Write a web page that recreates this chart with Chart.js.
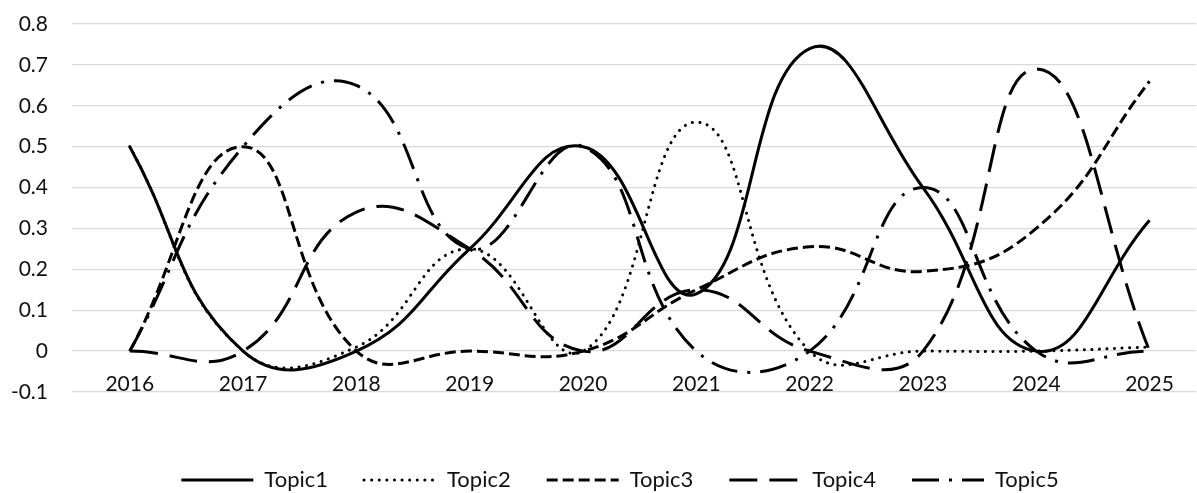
<!DOCTYPE html>
<html>
<head>
<meta charset="utf-8">
<script src="https://cdn.jsdelivr.net/npm/chart.js@4/dist/chart.umd.min.js"></script>
<style>
  html, body { margin: 0; padding: 0; background: #fff; }
  #wrap { width: 1197px; height: 493px; }
</style>
</head>
<body>
<div id="wrap"><canvas id="topics"></canvas></div>
<script>
const years = [2016, 2017, 2018, 2019, 2020, 2021, 2022, 2023, 2024, 2025];
const topic1 = [0.5, 0, 0, 0.25, 0.5, 0.14, 0.74, 0.4, 0, 0.32];
const topic2 = [0.5, 0, 0.01, 0.25, 0, 0.56, 0, 0, 0, 0.01];
const topic3 = [0, 0.5, 0, 0, 0, 0.15, 0.255, 0.195, 0.3, 0.66];
const topic4 = [0, 0, 0.34, 0.25, 0, 0.15, 0, 0, 0.69, 0];
const topic5 = [0, 0.5, 0.65, 0.25, 0.5, 0, 0, 0.4, 0, 0];
const yTicks = [-0.1, 0, 0.1, 0.2, 0.3, 0.4, 0.5, 0.6, 0.7, 0.8];

const pts = arr => arr.map((v, i) => ({ x: years[i], y: v }));

function series(label, arr, dash, cap) {
  return {
    label: label,
    data: pts(arr),
    borderColor: '#000',
    backgroundColor: '#000',
    borderWidth: 3,
    borderDash: dash,
    borderCapStyle: cap || 'butt',
    pointRadius: 0,
    pointHoverRadius: 0,
    pointStyle: 'line',
    tension: 0.45,
    fill: false
  };
}

// legend in the original sits lower and a bit right of centre
const nudgeLegend = {
  id: 'nudgeLegend',
  afterLayout(chart) {
    const lg = chart.legend;
    lg.left += 22;
    lg.right += 22;
    lg.top += 41;
    lg.bottom += 41;
  }
};

new Chart(document.getElementById('topics'), {
  type: 'line',
  data: {
    datasets: [
      series('Topic1', topic1, []),
      series('Topic2', topic2, [0.1, 7.5], 'round'),
      series('Topic3', topic3, [11, 5]),
      series('Topic4', topic4, [28, 12]),
      series('Topic5', topic5, [27, 10, 3, 10])
    ]
  },
  options: {
    responsive: true,
    maintainAspectRatio: false,
    animation: false,
    layout: { padding: { top: 24, right: 1, left: 0, bottom: 33 } },
    scales: {
      x: {
        type: 'linear',
        position: { y: 0 },
        min: 2015.49,
        max: 2025.41,
        afterBuildTicks: s => { s.ticks = years.map(v => ({ value: v })); },
        grid: { display: false, drawTicks: false },
        border: { display: false },
        ticks: {
          padding: 21,
          color: '#111',
          font: { family: 'Lato', size: 21 },
          maxRotation: 0,
          autoSkip: false,
          callback: v => String(v)
        }
      },
      y: {
        min: -0.1,
        max: 0.8,
        afterBuildTicks: s => { s.ticks = yTicks.map(v => ({ value: v })); },
        afterFit: s => { s.width = 72; },
        grid: { color: '#d9d9d9', lineWidth: 1.3, drawTicks: true, tickLength: 24, tickColor: 'rgba(0,0,0,0)' },
        border: { display: false },
        ticks: {
          padding: 0,
          color: '#111',
          font: { family: 'Lato', size: 21 },
          callback: v => String(+v.toFixed(1))
        }
      }
    },
    plugins: {
      tooltip: { enabled: false },
      legend: {
        position: 'bottom',
        labels: {
          usePointStyle: true,
          pointStyle: 'line',
          pointStyleWidth: 72,
          padding: 36,
          color: '#111',
          font: { family: 'Lato', size: 22 },
          generateLabels: chart => {
            const items = Chart.defaults.plugins.legend.labels.generateLabels(chart);
            items.forEach(it => {
              const ds = chart.data.datasets[it.datasetIndex];
              it.lineDash = ds.borderDash;
              it.lineCap = ds.borderCapStyle;
              it.lineWidth = 3;
              it.strokeStyle = '#000';
            });
            return items;
          }
        }
      }
    }
  },
  plugins: [nudgeLegend]
});
</script>
</body>
</html>
